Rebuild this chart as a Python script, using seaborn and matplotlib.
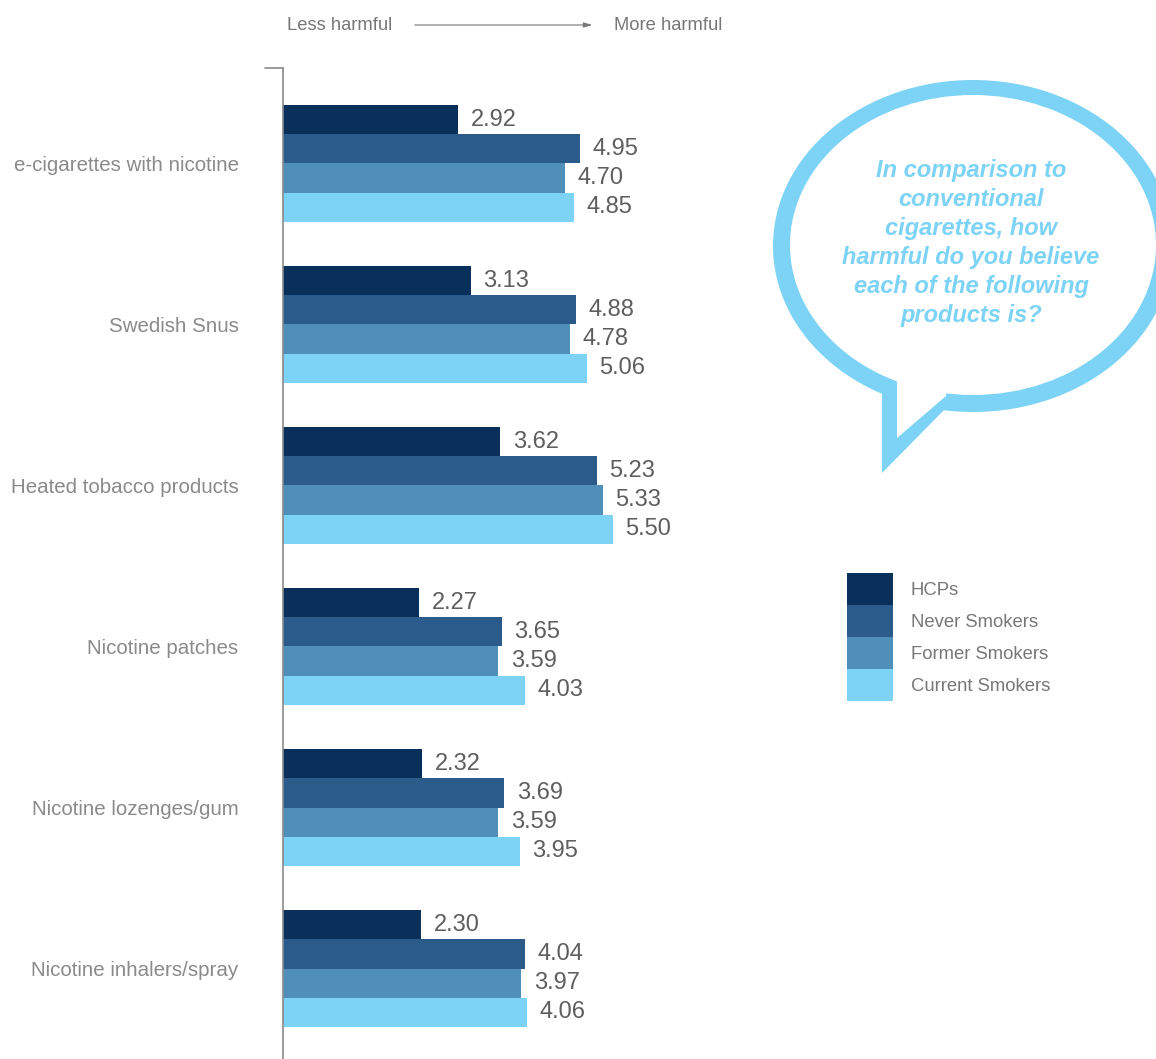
import pandas as pd
import matplotlib.pyplot as plt
import seaborn as sns
from matplotlib.patches import Ellipse, Polygon

# data
products = ["e-cigarettes with nicotine", "Swedish Snus", "Heated tobacco products",
            "Nicotine patches", "Nicotine lozenges/gum", "Nicotine inhalers/spray"]
groups = ["HCPs", "Never Smokers", "Former Smokers", "Current Smokers"]
hcps = [2.92, 3.13, 3.62, 2.27, 2.32, 2.30]
never = [4.95, 4.88, 5.23, 3.65, 3.69, 4.04]
former = [4.70, 4.78, 5.33, 3.59, 3.59, 3.97]
current = [4.85, 5.06, 5.50, 4.03, 3.95, 4.06]
colors = ["#08305a", "#2a5b8a", "#4f8fba", "#7dd3f5"]

rows = []
for g, vals in zip(groups, [hcps, never, former, current]):
    for p, v in zip(products, vals):
        rows.append({"product": p, "group": g, "value": v})
df = pd.DataFrame(rows)

sns.set_style("white")
plt.rcParams['font.family'] = ['Liberation Sans', 'DejaVu Sans']

fig = plt.figure(figsize=(11.56, 10.59), dpi=100)
ax = fig.add_axes([283 / 1156, 0, 873 / 1156, 991 / 1059])

sns.barplot(data=df, y="product", x="value", hue="group", order=products,
            hue_order=groups, palette=colors, saturation=1, width=0.727,
            orient="h", linewidth=0, ax=ax)

for cont in ax.containers:
    ax.bar_label(cont, fmt="%.2f", padding=9, fontsize=17, color="#5e5e5e")

ax.set_xlim(0, 873 / 60)
ax.set_ylim(5.562, -0.593)
ax.set_xlabel("")
ax.set_ylabel("")
ax.set_xticks([])
for s in ["top", "right", "bottom"]:
    ax.spines[s].set_visible(False)
ax.spines["left"].set_color("#8a8a8a")
ax.spines["left"].set_linewidth(1.2)
ax.tick_params(axis="y", length=0, pad=32, labelsize=14.8, labelcolor="#8a8a8a")

handles, labels = ax.get_legend_handles_labels()
ax.legend(handles, labels, loc="upper left", bbox_to_anchor=(847 / 1156, 1 - 573 / 1059),
          bbox_transform=fig.transFigure, frameon=False, fontsize=13.3,
          handlelength=2.5, handleheight=2.29, labelspacing=0, handletextpad=0.95,
          borderpad=0, borderaxespad=0, labelcolor="#777777")

# overlay in pixel coordinates for annotations
ov = fig.add_axes([0, 0, 1, 1], facecolor="none")
ov.set_xlim(0, 1156)
ov.set_ylim(1059, 0)
ov.axis("off")

ov.plot([265, 283], [68, 68], color="#8a8a8a", lw=1.2)

ov.text(287, 25, "Less harmful", fontsize=13.2, color="#777777", va="center", ha="left")
ov.text(614, 25, "More harmful", fontsize=13.2, color="#777777", va="center", ha="left")
ov.annotate("", xy=(595, 25), xytext=(412, 25),
            arrowprops=dict(arrowstyle="-|>,head_length=0.5,head_width=0.15",
                            color="#777777", lw=0.8))

# speech bubble
blue = "#7dd3f5"
ov.add_patch(Ellipse((973, 246), 400, 332, facecolor=blue, edgecolor="none"))
ov.add_patch(Polygon([(882, 360), (882, 473), (950, 404), (950, 360)],
                     facecolor=blue, edgecolor="none"))
ov.add_patch(Ellipse((973, 245), 366, 300, facecolor="white", edgecolor="none"))
ov.add_patch(Polygon([(897, 360), (897, 438), (946, 396), (946, 360)],
                     facecolor="white", edgecolor="none"))

ov.text(971, 243, "In comparison to\nconventional\ncigarettes, how\nharmful do you believe\n"
        "each of the following\nproducts is?", fontsize=17, fontweight="bold",
        fontstyle="italic", color=blue, ha="center", va="center", linespacing=1.33)

fig.savefig("out.png", dpi=100)
